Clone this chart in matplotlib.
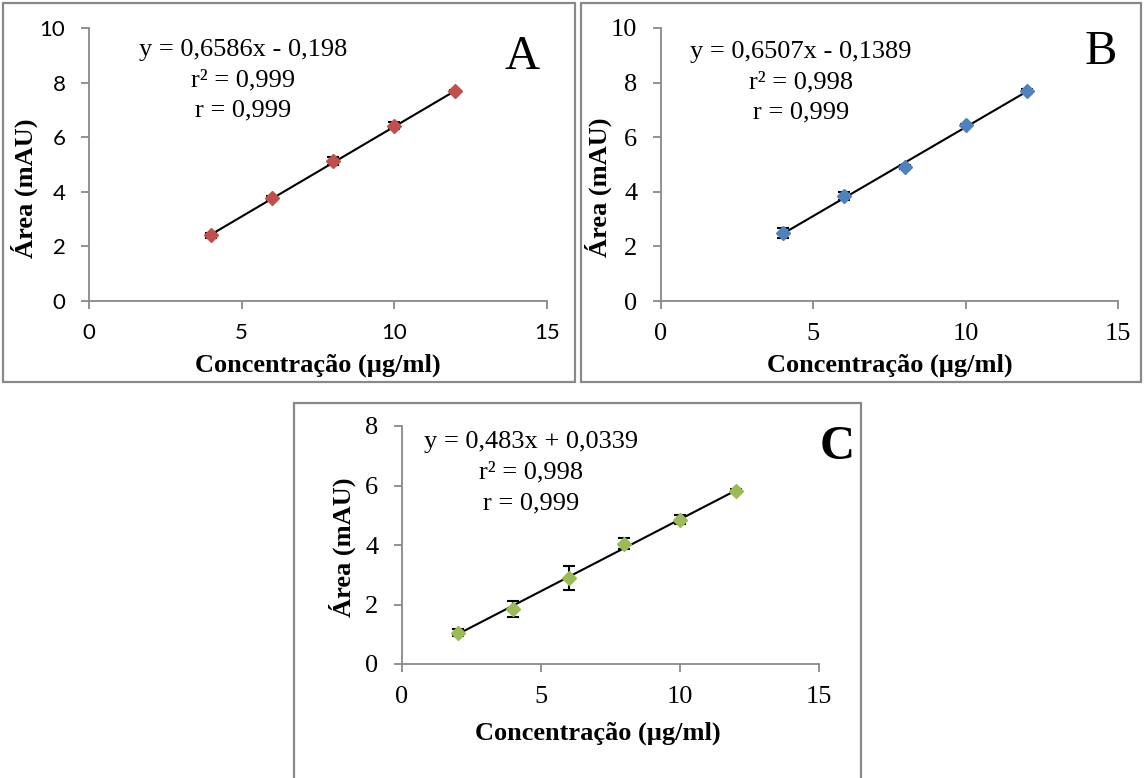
import matplotlib
matplotlib.use("Agg")
import matplotlib.pyplot as plt
import numpy as np
from matplotlib.patches import Rectangle

W, H = 1144, 778

# data
conc_ab = [4, 6, 8, 10, 12]
area_a = [2.40, 3.78, 5.12, 6.42, 7.68]
err_a = [0.10, 0.08, 0.15, 0.12, 0.05]
area_b = [2.50, 3.85, 4.90, 6.45, 7.70]
err_b = [0.18, 0.15, 0.08, 0.05, 0.05]
conc_c = [2, 4, 6, 8, 10, 12]
area_c = [1.05, 1.85, 2.90, 4.05, 4.85, 5.82]
err_c = [0.12, 0.28, 0.40, 0.18, 0.15, 0.05]

fit_a = (0.6586, -0.198)
fit_b = (0.6507, -0.1389)
fit_c = (0.483, 0.0339)

eq_a = ["y = 0,6586x - 0,198", "r² = 0,999", "r = 0,999"]
eq_b = ["y = 0,6507x - 0,1389", "r² = 0,998", "r = 0,999"]
eq_c = ["y = 0,483x + 0,0339", "r² = 0,998", "r = 0,999"]

SERIF = "Liberation Serif"
SANS = "Lato"
GRAY = "#898989"


def fx(px):
    return px / W


def fy(py):
    return 1 - py / H


def make_axes(fig, x0, x1, y0, y1):
    # pixel box -> figure coords (y0 top, y1 bottom)
    return fig.add_axes([fx(x0), fy(y1), (x1 - x0) / W, (y1 - y0) / H])


def draw_panel(ax, x, y, err, fit, color, ymax, tick_font, tick_size):
    slope, icpt = fit
    xs = np.array([min(x), max(x)])
    ax.plot(xs, slope * xs + icpt, color="black", lw=1.5, zorder=2)
    ax.errorbar(x, y, yerr=err, fmt="none", ecolor="black", elinewidth=1.5,
                capsize=4.5, capthick=1.5, zorder=3)
    ax.plot(x, y, "D", color=color, ms=7.5, mec=color, zorder=4)
    ax.set_xlim(0, 15)
    ax.set_ylim(0, ymax)
    ax.set_xticks([0, 5, 10, 15])
    ax.set_yticks(np.arange(0, ymax + 1, 2))
    for s in ["top", "right"]:
        ax.spines[s].set_visible(False)
    for s in ["left", "bottom"]:
        ax.spines[s].set_color(GRAY)
        ax.spines[s].set_linewidth(1.3)
    ax.tick_params(direction="out", length=6, width=1.3, color=GRAY,
                   labelcolor="black")
    ax.tick_params(axis="x", pad=10)
    ax.tick_params(axis="y", pad=11)
    for lab in ax.get_xticklabels() + ax.get_yticklabels():
        lab.set_fontfamily(tick_font)
        lab.set_fontsize(tick_size)
    ax.patch.set_alpha(0)


fig = plt.figure(figsize=(W / 100, H / 100), dpi=100)

# panel frames
for (x0, y0, x1, y1) in [(3, 3, 575, 382), (581, 3, 1141, 382), (294, 403, 861, 780)]:
    fig.patches.append(Rectangle((fx(x0), fy(y1)), (x1 - x0) / W, (y1 - y0) / H,
                                 transform=fig.transFigure, fill=False,
                                 edgecolor=GRAY, lw=1.6))

ax_a = make_axes(fig, 89, 547, 28, 301)
draw_panel(ax_a, conc_ab, area_a, err_a, fit_a, "#C0504D", 10, SANS, 16)
ax_b = make_axes(fig, 661, 1118, 28, 301)
draw_panel(ax_b, conc_ab, area_b, err_b, fit_b, "#4F81BD", 10, SERIF, 19)
ax_c = make_axes(fig, 402, 819, 426, 664)
draw_panel(ax_c, conc_c, area_c, err_c, fit_c, "#9BBB59", 8, SERIF, 19)

lab_kw = dict(family=SERIF, fontsize=19, fontweight="bold", ha="center", va="center")
xlab = "Concentração (µg/ml)"
ylab = "Área (mAU)"
fig.text(fx(318), fy(365), xlab, **lab_kw)
fig.text(fx(24), fy(188), ylab, rotation=90, **lab_kw)
fig.text(fx(890), fy(365), xlab, **lab_kw)
fig.text(fx(598), fy(187), ylab, rotation=90, **lab_kw)
fig.text(fx(598), fy(733), xlab, **lab_kw)
fig.text(fx(342), fy(547), ylab, rotation=90, **lab_kw)

eq_kw = dict(family=SERIF, fontsize=19, ha="center", va="center")
for lines, cx, ys in [(eq_a, 243, [50, 80, 110]),
                      (eq_b, 801, [52, 82, 112]),
                      (eq_c, 531, [442, 472, 503])]:
    for txt, yy in zip(lines, ys):
        fig.text(fx(cx), fy(yy), txt, **eq_kw)

fig.text(fx(522), fy(57), "A", family=SERIF, fontsize=35, ha="center", va="center")
fig.text(fx(1101), fy(52), "B", family=SERIF, fontsize=35, ha="center", va="center")
fig.text(fx(837), fy(447), "C", family=SERIF, fontsize=35, fontweight="bold",
         ha="center", va="center")

fig.savefig("out.png", dpi=100)
